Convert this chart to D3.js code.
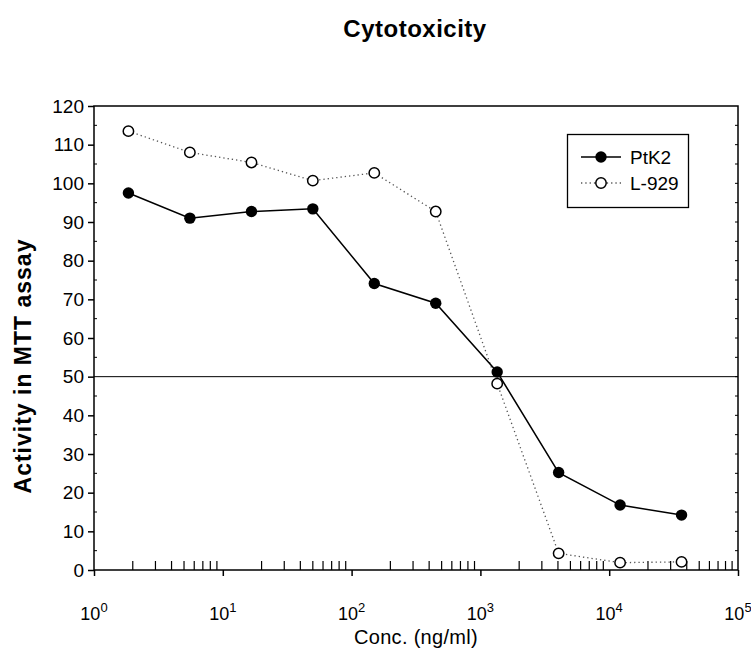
<!DOCTYPE html>
<html>
<head>
<meta charset="utf-8">
<script src="https://cdn.jsdelivr.net/npm/d3@7"></script>
<style>
  html, body { margin: 0; padding: 0; background: #fff; }
  svg { display: block; font-family: "Liberation Sans", Arial, sans-serif; }
</style>
</head>
<body>
<svg id="chart" width="751" height="648"></svg>
<script>
// Concentrations (ng/ml), threefold dilution series
const conc = [1.85, 5.55, 16.7, 50, 150, 450, 1350, 4050, 12150, 36450];
// MTT activity per cell line
const ptk2 = [97.5, 91.0, 92.7, 93.4, 74.1, 69.0, 51.2, 25.2, 16.8, 14.2];
const l929 = [113.5, 108.0, 105.4, 100.7, 102.7, 92.7, 48.2, 4.3, 1.9, 2.1];
const yTicks = [0, 10, 20, 30, 40, 50, 60, 70, 80, 90, 100, 110, 120];
const xDecades = [0, 1, 2, 3, 4, 5];
const seriesNames = ["PtK2", "L-929"];
const refLevel = 50;

const svg = d3.select("#chart");
const m = { left: 94, right: 738, top: 106, bottom: 570 };

const x = d3.scaleLog().domain([1, 1e5]).range([m.left, m.right]);
const y = d3.scaleLinear().domain([0, 120]).range([m.bottom, m.top]);

// Title
svg.append("text")
  .attr("x", 415).attr("y", 37)
  .attr("text-anchor", "middle")
  .attr("font-weight", "bold").attr("font-size", 24)
  .attr("letter-spacing", 0.5)
  .text("Cytotoxicity");

// Frame
svg.append("rect")
  .attr("x", m.left).attr("y", m.top)
  .attr("width", m.right - m.left).attr("height", m.bottom - m.top)
  .attr("fill", "none").attr("stroke", "#000").attr("stroke-width", 1.5);

// Left axis: major ticks outside, minor ticks inside
const yAxis = d3.axisLeft(y).tickValues(yTicks).tickSize(6).tickPadding(4);
const gy = svg.append("g").attr("transform", `translate(${m.left},0)`).call(yAxis);
gy.select(".domain").remove();
gy.selectAll(".tick line").attr("stroke-width", 1.5);
gy.selectAll(".tick text").attr("font-size", 19).attr("font-family", "Liberation Sans, Arial, sans-serif");

const yMinor = d3.range(5, 120, 10);
svg.append("g").selectAll("line").data(yMinor).join("line")
  .attr("x1", m.left).attr("x2", m.left + 3)
  .attr("y1", d => y(d)).attr("y2", d => y(d))
  .attr("stroke", "#000").attr("stroke-width", 1);

// Right axis: small inward ticks
svg.append("g").selectAll("line").data(d3.range(5, 120, 5)).join("line")
  .attr("x1", m.right).attr("x2", m.right - 3)
  .attr("y1", d => y(d)).attr("y2", d => y(d))
  .attr("stroke", "#000").attr("stroke-width", 1);

// Bottom axis: decade ticks outside, minor ticks inside
const majors = xDecades.map(p => Math.pow(10, p));
const xAxis = d3.axisBottom(x).tickValues(majors).tickSize(6).tickFormat("");
const gx = svg.append("g").attr("transform", `translate(0,${m.bottom})`).call(xAxis);
gx.select(".domain").remove();
gx.selectAll(".tick line").attr("stroke-width", 1.5);

const minors = [];
for (let p = 0; p < 5; p++) for (let k = 2; k <= 9; k++) minors.push(k * Math.pow(10, p));
svg.append("g").selectAll("line").data(minors).join("line")
  .attr("x1", d => x(d)).attr("x2", d => x(d))
  .attr("y1", m.bottom).attr("y2", m.bottom - 9)
  .attr("stroke", "#000").attr("stroke-width", 1.2);

// Decade labels with superscript exponent
const lab = svg.append("g").selectAll("text").data(xDecades).join("text")
  .attr("x", p => x(Math.pow(10, p))).attr("y", 620)
  .attr("text-anchor", "middle").attr("font-size", 18);
lab.append("tspan").text("10");
lab.append("tspan").attr("dy", -8).attr("font-size", 13).text(p => p);

// Axis titles
svg.append("text")
  .attr("x", 416).attr("y", 644)
  .attr("text-anchor", "middle").attr("font-size", 20)
  .attr("letter-spacing", 0.3)
  .text("Conc. (ng/ml)");
svg.append("text")
  .attr("transform", `translate(31,366) rotate(-90)`)
  .attr("text-anchor", "middle").attr("font-size", 23).attr("font-weight", "bold")
  .attr("letter-spacing", 1)
  .text("Activity in MTT assay");

// 50 % reference line
svg.append("line")
  .attr("x1", m.left).attr("x2", m.right)
  .attr("y1", y(refLevel)).attr("y2", y(refLevel))
  .attr("stroke", "#000").attr("stroke-width", 1);

const line = d3.line().x(d => x(d[0])).y(d => y(d[1]));
const ptkData = conc.map((c, i) => [c, ptk2[i]]);
const lData = conc.map((c, i) => [c, l929[i]]);

svg.append("path").datum(lData).attr("d", line)
  .attr("fill", "none").attr("stroke", "#555").attr("stroke-width", 1.3)
  .attr("stroke-dasharray", "1.3,3");
svg.append("path").datum(ptkData).attr("d", line)
  .attr("fill", "none").attr("stroke", "#000").attr("stroke-width", 1.5);

svg.append("g").selectAll("circle").data(lData).join("circle")
  .attr("cx", d => x(d[0])).attr("cy", d => y(d[1])).attr("r", 5.2)
  .attr("fill", "#fff").attr("stroke", "#000").attr("stroke-width", 1.5);
svg.append("g").selectAll("circle").data(ptkData).join("circle")
  .attr("cx", d => x(d[0])).attr("cy", d => y(d[1])).attr("r", 5.7)
  .attr("fill", "#000");

// Legend
const lg = svg.append("g");
lg.append("rect").attr("x", 567.5).attr("y", 134.5).attr("width", 121).attr("height", 73)
  .attr("fill", "#fff").attr("stroke", "#000").attr("stroke-width", 1.3);
const rows = [
  { name: seriesNames[0], y: 157, solid: true },
  { name: seriesNames[1], y: 183, solid: false }
];
rows.forEach(r => {
  lg.append("line").attr("x1", 581).attr("x2", 621).attr("y1", r.y).attr("y2", r.y)
    .attr("stroke", r.solid ? "#000" : "#555").attr("stroke-width", r.solid ? 1.5 : 1.3)
    .attr("stroke-dasharray", r.solid ? null : "1.3,3");
  lg.append("circle").attr("cx", 601).attr("cy", r.y).attr("r", r.solid ? 5.7 : 5.2)
    .attr("fill", r.solid ? "#000" : "#fff").attr("stroke", "#000")
    .attr("stroke-width", r.solid ? 0 : 1.5);
  lg.append("text").attr("x", 630).attr("y", r.y + 7).attr("font-size", 19).text(r.name);
});
</script>
</body>
</html>
